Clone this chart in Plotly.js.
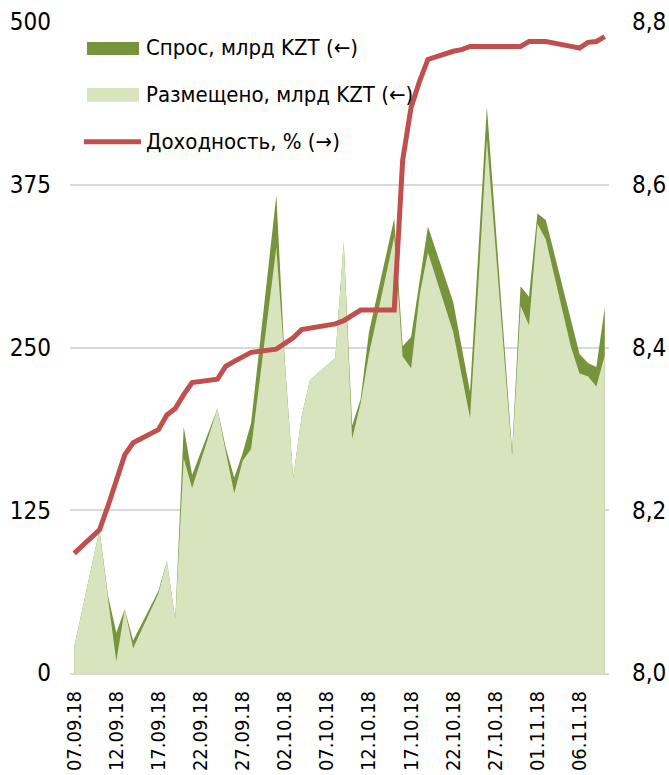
<!DOCTYPE html>
<html>
<head>
<meta charset="utf-8">
<script src="https://cdn.plot.ly/plotly-3.0.1.min.js"></script>
<style>
html, body { margin: 0; padding: 0; background: #ffffff; }
#chart { width: 669px; height: 775px; }
</style>
</head>
<body>
<div id="chart"></div>
<script>
// ---- data ----
const dates = [
  '2018-09-07','2018-09-10','2018-09-11','2018-09-12','2018-09-13','2018-09-14',
  '2018-09-17','2018-09-18','2018-09-19','2018-09-20','2018-09-21',
  '2018-09-24','2018-09-25','2018-09-26','2018-09-27','2018-09-28',
  '2018-10-01','2018-10-02','2018-10-03','2018-10-04','2018-10-05',
  '2018-10-08','2018-10-09','2018-10-10','2018-10-11','2018-10-12',
  '2018-10-15','2018-10-16','2018-10-17','2018-10-18','2018-10-19',
  '2018-10-22','2018-10-23','2018-10-24','2018-10-25','2018-10-26',
  '2018-10-29','2018-10-30','2018-10-31','2018-11-01','2018-11-02',
  '2018-11-05','2018-11-06','2018-11-07','2018-11-08','2018-11-09'
];
const demand = [
  20, 110, 60, 31, 49, 25,
  63, 86, 41, 189, 152,
  203, 173, 150, 169, 192,
  367, 240, 150, 197, 225,
  242, 331, 190, 210, 262,
  349, 251, 258, 300, 343,
  285, 250, 216, 325, 435,
  170, 297, 289, 353, 348,
  270, 245, 238, 235, 281
];
const placed = [
  20, 110, 58, 9, 49, 19,
  61, 86, 41, 165, 142,
  203, 170, 138, 163, 172,
  327, 236, 150, 197, 225,
  242, 331, 180, 207, 245,
  335, 243, 234, 290, 323,
  262, 230, 196, 300, 410,
  167, 282, 267, 345, 333,
  250, 230, 228, 220, 244
];
const yieldPct = [
  8.147, 8.176, 8.205, 8.238, 8.268, 8.283,
  8.299, 8.317, 8.325, 8.342, 8.357,
  8.361, 8.377, 8.383, 8.389, 8.394,
  8.398, 8.405, 8.412, 8.422, 8.424,
  8.429, 8.433, 8.439, 8.446, 8.446,
  8.446, 8.630, 8.695, 8.727, 8.754,
  8.764, 8.766, 8.770, 8.770, 8.770,
  8.770, 8.770, 8.776, 8.776, 8.776,
  8.770, 8.768, 8.775, 8.776, 8.782
];
const seriesNames = ['Спрос, млрд KZT (←)', 'Размещено, млрд KZT (←)', 'Доходность, % (→)'];
const leftTickVals = [0, 125, 250, 375, 500];
const rightTickVals = [8.0, 8.2, 8.4, 8.6, 8.8];
const xTickStart = '2018-09-07';
const xRange = ['2018-09-06 12:00', '2018-11-09 12:00'];

// ---- styles ----
const FONT = "'Liberation Sans Narrow', 'Arial Narrow', 'DejaVu Sans Condensed', sans-serif";
const C_DEMAND = '#77933C';
const C_PLACED = '#D7E4BD';
const C_YIELD = '#C0504D';
const C_GRID = '#D9D9D9';

const traces = [
  {
    x: dates, y: demand, name: seriesNames[0], type: 'scatter', mode: 'lines',
    fill: 'tozeroy', fillcolor: C_DEMAND, line: { width: 0, color: C_DEMAND },
    showlegend: false, hoverinfo: 'skip'
  },
  {
    x: dates, y: placed, name: seriesNames[1], type: 'scatter', mode: 'lines',
    fill: 'tozeroy', fillcolor: C_PLACED, line: { width: 0, color: C_PLACED },
    showlegend: false, hoverinfo: 'skip'
  },
  {
    x: dates, y: yieldPct, name: seriesNames[2], type: 'scatter', mode: 'lines',
    yaxis: 'y2', line: { width: 5, color: C_YIELD },
    showlegend: false, hoverinfo: 'skip'
  }
];

// custom legend (swatches + text) in paper coordinates
const L = 70, R = 609, T = 22, B = 673.3;
const px = v => (v - L) / (R - L);
const py = v => (B - v) / (B - T);

const shapes = [
  { type: 'rect', xref: 'paper', yref: 'paper', x0: px(87), x1: px(139), y0: py(55), y1: py(42),
    fillcolor: C_DEMAND, line: { width: 0 } },
  { type: 'rect', xref: 'paper', yref: 'paper', x0: px(87), x1: px(139), y0: py(101.7), y1: py(88),
    fillcolor: C_PLACED, line: { width: 0 } },
  { type: 'line', xref: 'paper', yref: 'paper', x0: px(84), x1: px(141), y0: py(141.7), y1: py(141.7),
    line: { color: C_YIELD, width: 5 } }
];
const legendY = [48, 95, 142];
const annotations = seriesNames.map((t, i) => ({
  text: t, xref: 'paper', yref: 'paper', x: px(144), y: py(legendY[i]),
  xanchor: 'left', yanchor: 'middle', showarrow: false,
  font: { family: FONT, size: 22, color: '#000000' }
}));

const layout = {
  width: 669, height: 775,
  margin: { l: 70, r: 60, t: 22, b: 102, pad: 0 },
  paper_bgcolor: '#ffffff', plot_bgcolor: '#ffffff',
  separators: ', ',
  font: { family: FONT, size: 24, color: '#000000' },
  showlegend: false,
  xaxis: {
    type: 'date', range: xRange,
    tick0: xTickStart, dtick: 5 * 86400000, tickformat: '%d.%m.%y',
    tickangle: -90, ticks: '', showgrid: false, zeroline: false,
    showline: true, linecolor: C_GRID, linewidth: 2,
    ticklabelstandoff: 8,
    tickfont: { family: FONT, size: 20, color: '#000000' }
  },
  yaxis: {
    range: [0, 500], tickvals: leftTickVals, ticks: '',
    showgrid: true, gridcolor: C_GRID, gridwidth: 2,
    zeroline: false, showline: false,
    ticklabelstandoff: 18,
    tickfont: { family: FONT, size: 24, color: '#000000' }
  },
  yaxis2: {
    range: [8.0, 8.8], tickvals: rightTickVals, tickformat: '.1f',
    overlaying: 'y', side: 'right', ticks: '',
    showgrid: false, zeroline: false, showline: false,
    ticklabelstandoff: 22,
    tickfont: { family: FONT, size: 24, color: '#000000' }
  },
  shapes: shapes,
  annotations: annotations
};

Plotly.newPlot('chart', traces, layout, { displayModeBar: false, staticPlot: true });
</script>
</body>
</html>
